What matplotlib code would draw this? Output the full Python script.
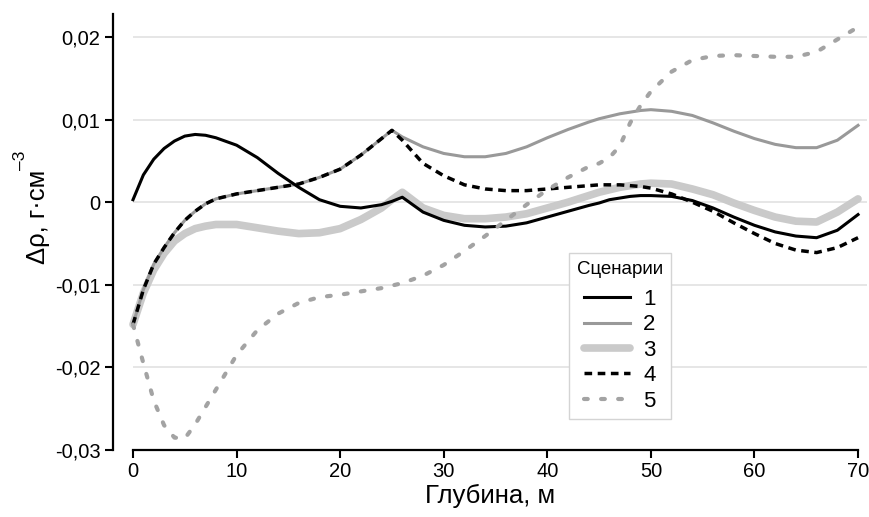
import matplotlib
matplotlib.use("Agg")
import matplotlib.pyplot as plt

plt.rcParams['font.family'] = ['Liberation Sans', 'DejaVu Sans']

# глубина, м
depth = [0, 1, 2, 3, 4, 5, 6, 7, 8, 10, 12, 14, 16, 18, 20, 22, 24, 25, 26, 28, 30,
         32, 34, 36, 38, 40, 42, 44, 45, 46, 47, 48, 49, 50, 52, 54, 56, 58, 60, 62, 64,
         66, 68, 70]

# сценарии 1-5, Δρ
s1 = [0.0003, 0.0033, 0.0052, 0.0065, 0.0074, 0.0080, 0.0082, 0.0081, 0.0078, 0.0069,
      0.0054, 0.0035, 0.0018, 0.0003, -0.0005, -0.0007, -0.0003, 0.0001, 0.0006, -0.0012,
      -0.0022, -0.0028, -0.0030, -0.0029, -0.0025, -0.0018, -0.0011, -0.0004, -0.0001,
      0.0003, 0.0005, 0.0007, 0.0008, 0.0008, 0.0007, 0.0002, -0.0007, -0.0018, -0.0028,
      -0.0036, -0.0041, -0.0043, -0.0034, -0.0015]
s2 = [-0.0148, -0.0106, -0.0075, -0.0055, -0.0037, -0.0022, -0.0011, -0.0002, 0.0004,
      0.0010, 0.0014, 0.0018, 0.0022, 0.0030, 0.0040, 0.0057, 0.0077, 0.0087, 0.0079,
      0.0067, 0.0059, 0.0055, 0.0055, 0.0059, 0.0067, 0.0078, 0.0088, 0.0097, 0.0101,
      0.0104, 0.0107, 0.0109, 0.0111, 0.0112, 0.0110, 0.0105, 0.0096, 0.0086, 0.0077,
      0.0070, 0.0066, 0.0066, 0.0075, 0.0093]
s3 = [-0.0148, -0.0110, -0.0082, -0.0062, -0.0047, -0.0038, -0.0032, -0.0029, -0.0027,
      -0.0027, -0.0031, -0.0035, -0.0038, -0.0037, -0.0032, -0.0021, -0.0007, 0.0003,
      0.0012, -0.0007, -0.0016, -0.0020, -0.0020, -0.0018, -0.0014, -0.0007, 0.0000,
      0.0008, 0.0012, 0.0015, 0.0018, 0.0020, 0.0022, 0.0023, 0.0022, 0.0016, 0.0009,
      -0.0001, -0.0010, -0.0018, -0.0023, -0.0024, -0.0012, 0.0004]
s4 = [-0.0148, -0.0106, -0.0075, -0.0055, -0.0037, -0.0022, -0.0011, -0.0002, 0.0004,
      0.0010, 0.0014, 0.0018, 0.0022, 0.0030, 0.0040, 0.0057, 0.0077, 0.0087, 0.0075,
      0.0047, 0.0032, 0.0021, 0.0016, 0.0014, 0.0014, 0.0016, 0.0018, 0.0020, 0.0021,
      0.0021, 0.0021, 0.0020, 0.0019, 0.0017, 0.0010, 0.0000, -0.0011, -0.0025, -0.0038,
      -0.0050, -0.0058, -0.0061, -0.0055, -0.0043]
s5 = [-0.0148, -0.0195, -0.0240, -0.0270, -0.0285, -0.0286, -0.0269, -0.0248, -0.0227,
      -0.0185, -0.0155, -0.0135, -0.0122, -0.0115, -0.0112, -0.0108, -0.0104, -0.0101,
      -0.0098, -0.0089, -0.0076, -0.0059, -0.0041, -0.0022, -0.0003, 0.0015, 0.0030,
      0.0043, 0.0047, 0.0054, 0.0068, 0.0096, 0.0117, 0.0134, 0.0158, 0.0172, 0.0177,
      0.0178, 0.0177, 0.0176, 0.0176, 0.0182, 0.0197, 0.0212]

xticks = [0, 10, 20, 30, 40, 50, 60, 70]
yticks = [-0.03, -0.02, -0.01, 0, 0.01, 0.02]
ytick_labels = ['-0,03', '-0,02', '-0,01', '0', '0,01', '0,02']

fig = plt.figure(figsize=(8.7, 5.17), dpi=100)
ax = fig.add_axes([0.1299, 0.1296, 0.8667, 0.8433])
ax.set_xlim(-1.93, 70.87)
ax.set_ylim(-0.03, 0.02278)

# сетка только от 0 по x
ax.hlines(yticks[1:], 0, 70.87, color='#e2e2e2', lw=1.2, zorder=0)

ax.plot(depth, s3, color='#cacaca', lw=5.5, solid_capstyle='round', zorder=2, label='3')
ax.plot(depth, s2, color='#999999', lw=2.2, zorder=3, label='2')
ax.plot(depth, s1, color='black', lw=2.2, zorder=4, label='1')
ax.plot(depth, s4, color='black', lw=2.5, linestyle=(0, (2.2, 1.6)), zorder=5, label='4')
ax.plot(depth, s5, color='#a3a3a3', lw=3.0, linestyle=(0, (0.9, 3.2)),
        dash_capstyle='round', zorder=6, label='5')

for side in ['top', 'right']:
    ax.spines[side].set_visible(False)
ax.spines['left'].set_linewidth(1.6)
ax.spines['bottom'].set_linewidth(1.6)
ax.spines['bottom'].set_bounds(0, 70)
ax.tick_params(width=1.5, length=6, labelsize=14.5, pad=3)
ax.set_xticks(xticks)
ax.set_yticks(yticks)
ax.set_yticklabels(ytick_labels)

ax.set_xlabel('Глубина, м', fontsize=18.5, labelpad=2)
fig.text(0.044, 0.58, 'Δρ, г·см', rotation=90, fontsize=18.5, ha='center', va='center')
fig.text(0.023, 0.69, '–3', rotation=90, fontsize=12.5, ha='center', va='center')

h, l = ax.get_legend_handles_labels()
order = [2, 1, 0, 3, 4]
leg = ax.legend([h[i] for i in order], [l[i] for i in order], title='Сценарии',
                loc='upper left', bbox_to_anchor=(569 / 870, 1 - 253 / 517),
                bbox_transform=fig.transFigure, borderaxespad=0, fontsize=16,
                title_fontsize=13.5, handlelength=2.05, labelspacing=0.2,
                borderpad=0.35, handletextpad=0.6,
                fancybox=False, edgecolor='#d4d4d4', framealpha=1)
leg.get_frame().set_linewidth(1.0)
leg._legend_box.sep = 8

fig.savefig('out.png', dpi=100)
